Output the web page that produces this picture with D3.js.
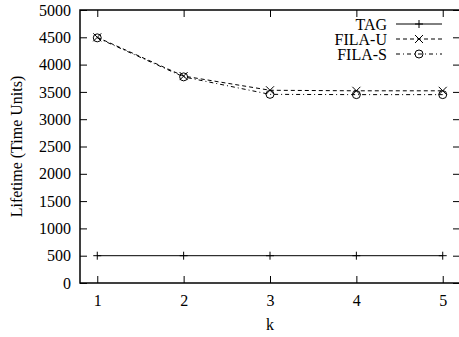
<!DOCTYPE html>
<html>
<head>
<meta charset="utf-8">
<script src="https://d3js.org/d3.v7.min.js"></script>
<style>
  body { margin: 0; background: #fff; }
  text { font-family: "Liberation Serif", "Times New Roman", serif; fill: #000; }
</style>
</head>
<body>
<svg id="chart"></svg>
<script>
// data
var kValues = [1, 2, 3, 4, 5];
var tag   = [500, 500, 500, 500, 500];
var filaU = [4500, 3790, 3530, 3520, 3520];
var filaS = [4490, 3775, 3455, 3450, 3450];
var yTicks = [0, 500, 1000, 1500, 2000, 2500, 3000, 3500, 4000, 4500, 5000];

var width = 459, height = 337;
var plotL = 80, plotR = 460, plotT = 10, plotB = 283;

var svg = d3.select("#chart")
  .attr("width", width)
  .attr("height", height);

var x = d3.scaleLinear().domain([0.8, 5.2]).range([plotL, plotR]);
var y = d3.scaleLinear().domain([0, 5000]).range([plotB, plotT]);

// ticks, inward, mirrored on all sides
function styleAxis(g) {
  g.select(".domain").remove();
  g.selectAll(".tick line").attr("stroke", "#000").attr("stroke-width", 1);
  g.selectAll(".tick text").style("font-size", "16px").attr("fill", "#000");
}

svg.append("g")
  .attr("transform", "translate(0," + plotB + ")")
  .call(d3.axisBottom(x).tickValues(kValues).tickFormat(d3.format("d"))
    .tickSizeInner(-7).tickSizeOuter(0).tickPadding(12))
  .call(styleAxis);

svg.append("g")
  .attr("transform", "translate(0," + plotT + ")")
  .call(d3.axisTop(x).tickValues(kValues).tickFormat("")
    .tickSizeInner(-7).tickSizeOuter(0))
  .call(styleAxis);

svg.append("g")
  .attr("transform", "translate(" + plotL + ",0)")
  .call(d3.axisLeft(y).tickValues(yTicks).tickFormat(d3.format("d"))
    .tickSizeInner(-7).tickSizeOuter(0).tickPadding(9))
  .call(styleAxis);

svg.append("g")
  .attr("transform", "translate(" + plotR + ",0)")
  .call(d3.axisRight(y).tickValues(yTicks).tickFormat("")
    .tickSizeInner(-7).tickSizeOuter(0))
  .call(styleAxis);

// border
svg.append("rect")
  .attr("x", plotL).attr("y", plotT)
  .attr("width", plotR - plotL).attr("height", plotB - plotT)
  .attr("fill", "none").attr("stroke", "#000").attr("stroke-width", 1.5);

// axis titles
svg.append("text")
  .attr("x", (plotL + plotR) / 2).attr("y", 330)
  .attr("text-anchor", "middle")
  .style("font-size", "16px")
  .text("k");

svg.append("text")
  .attr("transform", "translate(22," + (plotT + plotB) / 2 + ") rotate(-90)")
  .attr("text-anchor", "middle")
  .style("font-size", "16px")
  .text("Lifetime (Time Units)");

// markers
function drawMarker(g, type, cx, cy) {
  var s = 4;
  if (type === "plus") {
    g.append("path")
      .attr("d", "M" + (cx - s) + "," + cy + "H" + (cx + s) + "M" + cx + "," + (cy - s) + "V" + (cy + s))
      .attr("stroke", "#000").attr("fill", "none");
  } else if (type === "cross") {
    g.append("path")
      .attr("d", "M" + (cx - s) + "," + (cy - s) + "L" + (cx + s) + "," + (cy + s) +
                 "M" + (cx - s) + "," + (cy + s) + "L" + (cx + s) + "," + (cy - s))
      .attr("stroke", "#000").attr("fill", "none");
  } else {
    g.append("circle")
      .attr("cx", cx).attr("cy", cy).attr("r", 4)
      .attr("stroke", "#000").attr("fill", "none");
  }
}

var series = [
  { name: "TAG",    values: tag,   dash: null,      marker: "plus" },
  { name: "FILA-U", values: filaU, dash: "4,3",     marker: "cross" },
  { name: "FILA-S", values: filaS, dash: "4,3,1,3", marker: "circle" }
];

var line = d3.line()
  .x(function(d, i) { return x(kValues[i]); })
  .y(function(d) { return y(d); });

series.forEach(function(s, si) {
  var g = svg.append("g");
  g.append("path")
    .datum(s.values)
    .attr("d", line)
    .attr("fill", "none")
    .attr("stroke", "#000")
    .attr("stroke-width", 1)
    .attr("stroke-dasharray", s.dash);
  s.values.forEach(function(v, i) {
    drawMarker(g, s.marker, x(kValues[i]), y(v));
  });

  // legend entry
  var ly = 24 + si * 15;
  var lg = svg.append("g");
  lg.append("text")
    .attr("x", 387).attr("y", ly)
    .attr("dy", "0.35em")
    .attr("text-anchor", "end")
    .style("font-size", "16px")
    .text(s.name);
  lg.append("line")
    .attr("x1", 396).attr("x2", 442)
    .attr("y1", ly).attr("y2", ly)
    .attr("stroke", "#000")
    .attr("stroke-dasharray", s.dash);
  drawMarker(lg, s.marker, 419, ly);
});
</script>
</body>
</html>
